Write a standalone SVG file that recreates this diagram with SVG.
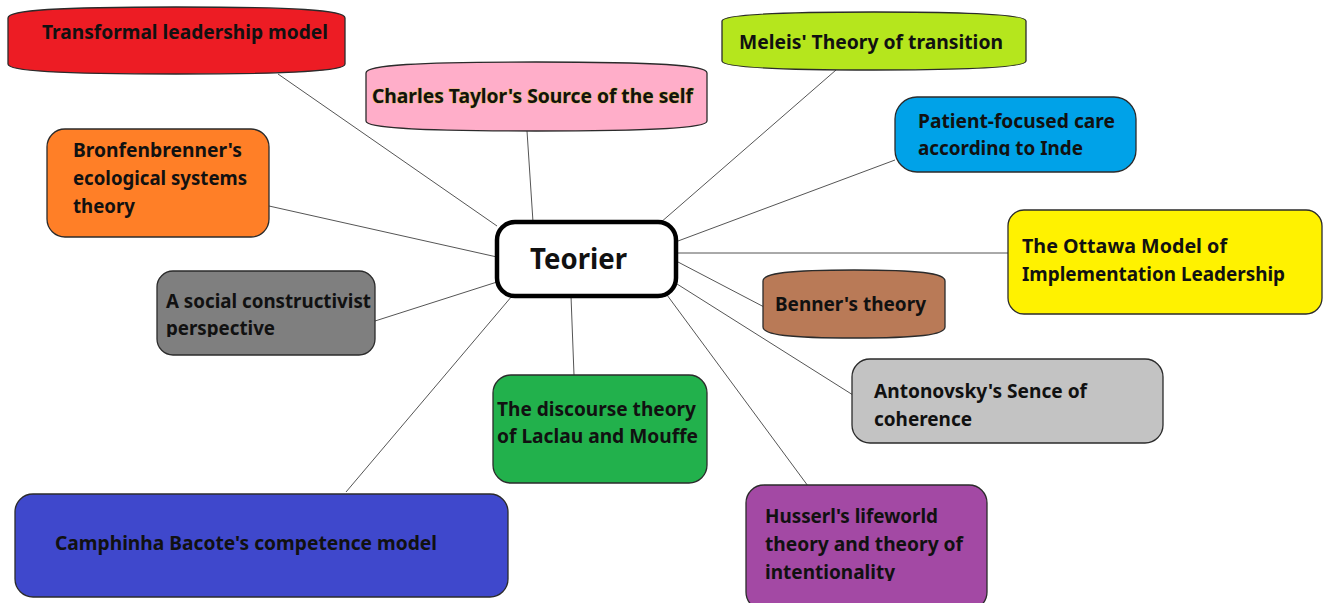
<svg xmlns="http://www.w3.org/2000/svg" width="1328" height="603" viewBox="0 0 1328 603">
<style>
.bx{stroke:#2b2b2b;stroke-width:1.3}
.t{font-family:"Noto Sans","Open Sans",sans-serif;font-weight:bold;font-size:20px;fill:#111}
.c{stroke:#555;stroke-width:1;fill:none}
</style>
<defs>
<clipPath id="cpPat"><rect x="895" y="97" width="241" height="59"/></clipPath>
<clipPath id="cpSoc"><rect x="157" y="271" width="218" height="66"/></clipPath>
<clipPath id="cpHus"><rect x="746" y="485" width="241" height="96"/></clipPath>
</defs>
<rect width="1328" height="603" fill="#fff"/>
<g id="connectors">
<line class="c" x1="278" y1="74" x2="497" y2="226"/>
<line class="c" x1="527" y1="131" x2="533" y2="222"/>
<line class="c" x1="836" y1="70" x2="660" y2="223"/>
<line class="c" x1="895" y1="160" x2="678" y2="241"/>
<line class="c" x1="269" y1="206" x2="497" y2="257"/>
<line class="c" x1="375" y1="321" x2="497" y2="282"/>
<line class="c" x1="678" y1="253" x2="1008" y2="253"/>
<line class="c" x1="678" y1="262" x2="766" y2="308"/>
<line class="c" x1="677" y1="284" x2="853" y2="395"/>
<line class="c" x1="667" y1="295" x2="808" y2="486"/>
<line class="c" x1="571" y1="296" x2="574" y2="375"/>
<line class="c" x1="512" y1="296" x2="346" y2="492"/>
</g>
<g id="center">
<rect x="497" y="222" width="179" height="74" rx="18" fill="#fff" stroke="#000" stroke-width="4.5"/>
<text class="t" x="530" y="269" style="font-size:29px" textLength="97" lengthAdjust="spacingAndGlyphs">Teorier</text>
</g>
<g id="transformal">
<path class="bx" fill="#ED1C24" d="M8 18 C8 10 58 7 176 7 C294 7 345 10 345 18 L345 64 C345 71 294 74 176 74 C58 74 8 71 8 64 Z"/>
<text class="t" x="42" y="39" textLength="286" lengthAdjust="spacingAndGlyphs">Transformal leadership model</text>
</g>
<g id="taylor">
<path class="bx" fill="#FFAEC9" d="M366 73 C366 65 417 62 536 62 C656 62 707 65 707 73 L707 121 C707 128 656 131 536 131 C417 131 366 128 366 121 Z"/>
<text class="t" x="372" y="103" textLength="321" lengthAdjust="spacingAndGlyphs" stroke="#c8c800" stroke-width="0.6" paint-order="stroke">Charles Taylor's Source of the self</text>
</g>
<g id="meleis">
<path class="bx" fill="#B5E61D" d="M722 21 C722 15 768 12 874 12 C980 12 1026 15 1026 21 L1026 61 C1026 67 980 70 874 70 C768 70 722 67 722 61 Z"/>
<text class="t" x="739" y="49" textLength="264" lengthAdjust="spacingAndGlyphs">Meleis' Theory of transition</text>
</g>
<g id="patient">
<rect class="bx" x="895" y="97" width="241" height="75" rx="22" fill="#00A2E8"/>
<g clip-path="url(#cpPat)">
<text class="t" x="918" y="128" textLength="197" lengthAdjust="spacingAndGlyphs">Patient-focused care</text>
<text class="t" x="918" y="155" textLength="165" lengthAdjust="spacingAndGlyphs">according to Inde</text>
</g>
</g>
<g id="bronfenbrenner">
<rect class="bx" x="47" y="129" width="222" height="108" rx="18" fill="#FF7F27"/>
<text class="t" x="73" y="157" textLength="169" lengthAdjust="spacingAndGlyphs">Bronfenbrenner's</text>
<text class="t" x="73" y="185" textLength="174" lengthAdjust="spacingAndGlyphs">ecological systems</text>
<text class="t" x="73" y="213" textLength="62" lengthAdjust="spacingAndGlyphs">theory</text>
</g>
<g id="social">
<rect class="bx" x="157" y="271" width="218" height="84" rx="16" fill="#7F7F7F"/>
<g clip-path="url(#cpSoc)">
<text class="t" x="166" y="308" textLength="205" lengthAdjust="spacingAndGlyphs">A social constructivist</text>
<text class="t" x="166" y="335" textLength="109" lengthAdjust="spacingAndGlyphs">perspective</text>
</g>
</g>
<g id="ottawa">
<rect class="bx" x="1008" y="210" width="314" height="104" rx="16" fill="#FFF200"/>
<text class="t" x="1022" y="253" textLength="205" lengthAdjust="spacingAndGlyphs">The Ottawa Model of</text>
<text class="t" x="1022" y="281" textLength="263" lengthAdjust="spacingAndGlyphs">Implementation Leadership</text>
</g>
<g id="benner">
<path class="bx" fill="#B97A57" d="M763 281 C763 273 790 270 854 270 C918 270 945 273 945 281 L945 327 C945 335 918 338 854 338 C790 338 763 335 763 327 Z"/>
<text class="t" x="775" y="311" textLength="151" lengthAdjust="spacingAndGlyphs">Benner's theory</text>
</g>
<g id="antonovsky">
<rect class="bx" x="852" y="359" width="311" height="84" rx="18" fill="#C3C3C3"/>
<text class="t" x="874" y="398" textLength="213" lengthAdjust="spacingAndGlyphs">Antonovsky's Sence of</text>
<text class="t" x="874" y="426" textLength="98" lengthAdjust="spacingAndGlyphs">coherence</text>
</g>
<g id="discourse">
<rect class="bx" x="493" y="375" width="214" height="108" rx="18" fill="#22B14C"/>
<text class="t" x="497" y="416" textLength="199" lengthAdjust="spacingAndGlyphs">The discourse theory</text>
<text class="t" x="497" y="443" textLength="201" lengthAdjust="spacingAndGlyphs">of Laclau and Mouffe</text>
</g>
<g id="camphinha">
<rect class="bx" x="15" y="494" width="493" height="103" rx="18" fill="#3F48CC"/>
<text class="t" x="55" y="550" textLength="382" lengthAdjust="spacingAndGlyphs">Camphinha Bacote's competence model</text>
</g>
<g id="husserl">
<rect class="bx" x="746" y="485" width="241" height="125" rx="18" fill="#A349A4"/>
<g clip-path="url(#cpHus)">
<text class="t" x="765" y="523" textLength="173" lengthAdjust="spacingAndGlyphs">Husserl's lifeworld</text>
<text class="t" x="765" y="551" textLength="198" lengthAdjust="spacingAndGlyphs">theory and theory of</text>
<text class="t" x="765" y="579" textLength="130" lengthAdjust="spacingAndGlyphs">intentionality</text>
</g>
</g>
</svg>
